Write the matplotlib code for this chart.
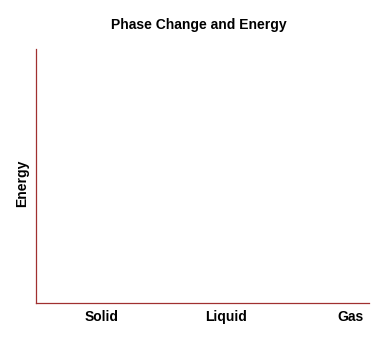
import matplotlib
matplotlib.use("Agg")
import matplotlib.pyplot as plt

categories = ["Solid", "Liquid", "Gas"]
title = "Phase Change and Energy"
ylabel = "Energy"

plt.rcParams['font.family'] = ['Liberation Sans', 'DejaVu Sans']

fig = plt.figure(figsize=(3.76, 3.62), dpi=100)
ax = fig.add_axes([36/376, 1-303/362, 333/376, (303-49)/362])
x = list(range(len(categories)))
ax.set_xticks(x)
ax.set_xticklabels(categories, fontsize=10, fontweight='bold')
ax.tick_params(axis='x', length=0, pad=5)
ax.set_yticks([])
ax.set_xlim(-0.53, 2.145)
ax.set_ylim(0, 1)
for s in ['top', 'right']:
    ax.spines[s].set_visible(False)
for s in ['left', 'bottom']:
    ax.spines[s].set_color('#a03030')
    ax.spines[s].set_linewidth(0.9)
ax.set_ylabel(ylabel, fontsize=10, fontweight='bold')
ax.yaxis.set_label_coords(-0.022, 0.472)
fig.text(199/376, 1-25/362, title, ha='center', va='center', fontsize=10, fontweight='bold')
fig.savefig("out.png", dpi=100, facecolor='white')
